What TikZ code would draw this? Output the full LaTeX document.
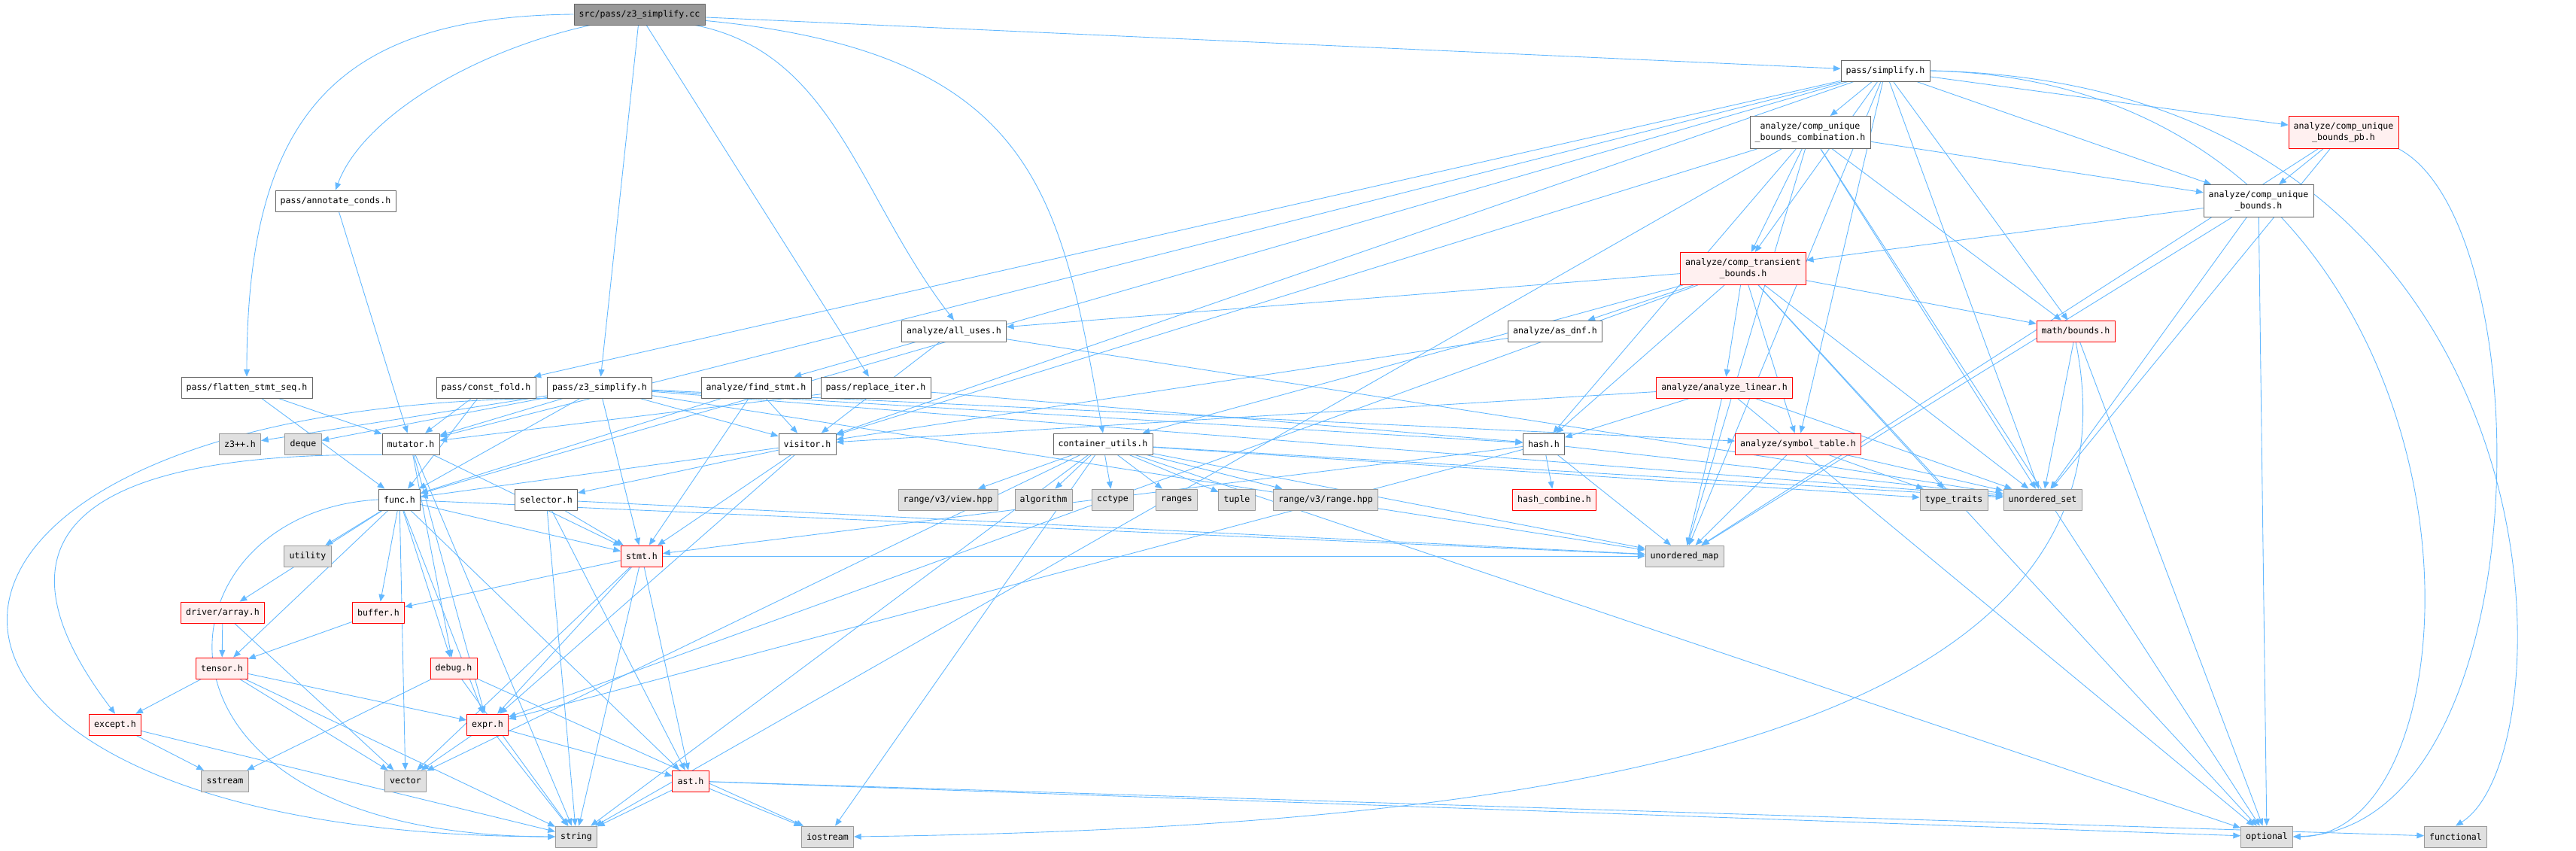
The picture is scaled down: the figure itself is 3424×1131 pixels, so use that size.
\documentclass[tikz,border=0pt]{standalone}
\usepackage{fontspec}
\newfontfamily\incfont{DejaVu Sans Mono}
\usetikzlibrary{arrows.meta,backgrounds}
\begin{document}
\begin{tikzpicture}[x=0.02cm, y=-0.02cm, line cap=round, line join=round,
    every node/.style={font=\incfont\fontsize{6.6}{8.9}\selectfont, align=center,
      inner xsep=3.8pt, inner ysep=4.5pt, minimum height=0.56cm, line width=0.45pt},
    hfile/.style={draw=boxline, fill=white},
    sysfile/.style={draw=sysline, fill=sysfill},
    trunc/.style={draw=red, fill=truncfill},
    rootfile/.style={draw=boxline, fill=rootfill},
    inc/.style={draw=edgeblue, line width=0.5pt, -{Triangle[length=5.5pt,width=4.5pt]}}]
  \definecolor{edgeblue}{HTML}{63B8FF}
  \definecolor{boxline}{HTML}{666666}
  \definecolor{sysline}{HTML}{999999}
  \definecolor{sysfill}{HTML}{E0E0E0}
  \definecolor{truncfill}{HTML}{FFF0F0}
  \definecolor{rootfill}{HTML}{999999}
  \useasboundingbox (0,0) rectangle (3424,1131);

  \node[rootfile] (cc) at (850,19) {src/pass/z3\_simplify.cc};
  \node[hfile] (simp) at (2506,94) {pass/simplify.h};
  \node[hfile] (comb) at (2406,176) {analyze/comp\_unique\\\_bounds\_combination.h};
  \node[trunc] (pb) at (3115,176) {analyze/comp\_unique\\\_bounds\_pb.h};
  \node[hfile] (annot) at (446,267) {pass/annotate\_conds.h};
  \node[hfile] (cub) at (3002,267) {analyze/comp\_unique\\\_bounds.h};
  \node[trunc] (trans) at (2317,357) {analyze/comp\_transient\\\_bounds.h};
  \node[hfile] (alluses) at (1268,440) {analyze/all\_uses.h};
  \node[hfile] (asdnf) at (2067,440) {analyze/as\_dnf.h};
  \node[trunc] (bounds) at (2759,440) {math/bounds.h};
  \node[hfile] (flat) at (328,515) {pass/flatten\_stmt\_seq.h};
  \node[hfile] (cfold) at (646,515) {pass/const\_fold.h};
  \node[hfile] (z3h) at (797,515) {pass/z3\_simplify.h};
  \node[hfile] (fstmt) at (1005,515) {analyze/find\_stmt.h};
  \node[hfile] (riter) at (1164,515) {pass/replace\_iter.h};
  \node[trunc] (alin) at (2292,515) {analyze/analyze\_linear.h};
  \node[sysfile] (z3pp) at (319,590) {z3++.h};
  \node[sysfile] (deque) at (403,590) {deque};
  \node[hfile] (mut) at (546,590) {mutator.h};
  \node[hfile] (vis) at (1073,590) {visitor.h};
  \node[hfile] (cutil) at (1466,590) {container\_utils.h};
  \node[hfile] (hash) at (2052,590) {hash.h};
  \node[trunc] (symtab) at (2390,590) {analyze/symbol\_table.h};
  \node[hfile] (func) at (531,664) {func.h};
  \node[hfile] (sel) at (726,664) {selector.h};
  \node[sysfile] (view) at (1260,664) {range/v3/view.hpp};
  \node[sysfile] (algo) at (1387,664) {algorithm};
  \node[sysfile] (cctype) at (1479,664) {cctype};
  \node[sysfile] (ranges) at (1564,664) {ranges};
  \node[sysfile] (tuple) at (1644,664) {tuple};
  \node[sysfile] (range) at (1762,664) {range/v3/range.hpp};
  \node[trunc] (hcomb) at (2066,664) {hash\_combine.h};
  \node[sysfile] (ttraits) at (2597,664) {type\_traits};
  \node[sysfile] (uset) at (2715,664) {unordered\_set};
  \node[sysfile] (util) at (409,739) {utility};
  \node[trunc] (stmt) at (853,739) {stmt.h};
  \node[sysfile] (umap) at (2239,739) {unordered\_map};
  \node[trunc] (arr) at (296,814) {driver/array.h};
  \node[trunc] (buf) at (503,814) {buffer.h};
  \node[trunc] (tensor) at (295,888) {tensor.h};
  \node[trunc] (debug) at (603,888) {debug.h};
  \node[trunc] (except) at (153,963) {except.h};
  \node[trunc] (expr) at (648,963) {expr.h};
  \node[sysfile] (sstream) at (299,1038) {sstream};
  \node[sysfile] (vector) at (539,1038) {vector};
  \node[trunc] (ast) at (918,1038) {ast.h};
  \node[sysfile] (string) at (766,1112) {string};
  \node[sysfile] (iostream) at (1100,1112) {iostream};
  \node[sysfile] (optional) at (3013,1112) {optional};
  \node[sysfile] (functional) at (3264,1112) {functional};

  \begin{pgfonlayer}{background}
    \draw[inc] (cc.west) .. controls (450,22) and (328,150) .. (flat.north);
    \draw[inc] (cc) .. controls (620,70) and (480,160) .. (annot.north);
    \draw[inc] (cc) .. controls (1110,70) and (1140,260) .. (alluses.north);
    \draw[inc] (cc) .. controls (1380,70) and (1410,260) .. (cutil.north);
    \foreach \dst in {z3h,riter,simp}
      \draw[inc] (cc) -- (\dst);
    \foreach \dst in {cfold,mut,func,vis,comb,pb,cub,trans,bounds,symtab,uset,umap}
      \draw[inc] (simp) -- (\dst);
    \draw[inc] (simp.east) .. controls (3420,110) and (3420,1000) .. (functional.north);
    \draw[inc] (simp.east) .. controls (3330,110) and (3330,1112) .. (optional.east);
    \foreach \dst in {cub,trans,bounds,hash,vis,umap,uset,optional,string}
      \draw[inc] (comb) -- (\dst);
    \foreach \dst in {cub,uset,umap}
      \draw[inc] (pb) -- (\dst);
    \draw[inc] (pb.south east) .. controls (3380,300) and (3380,1100) .. (optional.east);
    \foreach \dst in {trans,uset,umap,optional}
      \draw[inc] (cub) -- (\dst);
    \foreach \dst in {alluses,asdnf,alin,hash,symtab,bounds,cutil,expr,uset,ttraits,optional}
      \draw[inc] (trans) -- (\dst);
    \foreach \dst in {fstmt,vis,uset}
      \draw[inc] (alluses) -- (\dst);
    \draw[inc] (asdnf) -- (vis);
    \foreach \dst in {uset,optional}
      \draw[inc] (bounds) -- (\dst);
    \draw[inc] (bounds.south) .. controls (2870,1000) and (2000,1100) .. (iostream.east);
    \foreach \dst in {hash,vis,umap,uset,optional}
      \draw[inc] (alin) -- (\dst);
    \foreach \dst in {umap,ttraits,uset}
      \draw[inc] (symtab) -- (\dst);
    \foreach \dst in {view,algo,cctype,ranges,tuple,range,ttraits,uset,umap,optional,vector,string,iostream}
      \draw[inc] (cutil) -- (\dst);
    \foreach \dst in {vis,func,stmt}
      \draw[inc] (fstmt) -- (\dst);
    \foreach \dst in {mut,hash}
      \draw[inc] (riter) -- (\dst);
    \foreach \dst in {z3pp,deque,mut,func,vis,hash,symtab,umap,uset,stmt}
      \draw[inc] (z3h) -- (\dst);
    \draw[inc] (z3h.south west) .. controls (-230,540) and (-230,1110) .. (string.west);
    \foreach \dst in {mut,func}
      \draw[inc] (flat) -- (\dst);
    \draw[inc] (annot) -- (mut);
    \foreach \dst in {mut,func}
      \draw[inc] (cfold) -- (\dst);
    \foreach \dst in {stmt,expr,debug,string}
      \draw[inc] (mut) -- (\dst);
    \draw[inc] (mut.south west) .. controls (-30,600) and (40,800) .. (except.north);
    \foreach \dst in {sel,func,stmt,expr}
      \draw[inc] (vis) -- (\dst);
    \foreach \dst in {util,arr,buf,tensor,debug,vector,stmt,umap,ast,expr}
      \draw[inc] (func) -- (\dst);
    \draw[inc] (func.west) .. controls (200,680) and (150,1110) .. (string.west);
    \foreach \dst in {stmt,umap,string,ast}
      \draw[inc] (sel) -- (\dst);
    \foreach \dst in {buf,expr,ast,string,vector,umap}
      \draw[inc] (stmt) -- (\dst);
    \foreach \dst in {tensor,vector}
      \draw[inc] (arr) -- (\dst);
    \draw[inc] (buf) -- (tensor);
    \foreach \dst in {except,expr,vector,string}
      \draw[inc] (tensor) -- (\dst);
    \foreach \dst in {sstream,string,iostream}
      \draw[inc] (debug) -- (\dst);
    \foreach \dst in {sstream,string}
      \draw[inc] (except) -- (\dst);
    \foreach \dst in {ast,vector,string}
      \draw[inc] (expr) -- (\dst);
    \foreach \dst in {iostream,string,optional,functional}
      \draw[inc] (ast) -- (\dst);
    \foreach \dst in {hcomb,umap,uset,stmt,expr}
      \draw[inc] (hash) -- (\dst);
  \end{pgfonlayer}
\end{tikzpicture}
\end{document}
